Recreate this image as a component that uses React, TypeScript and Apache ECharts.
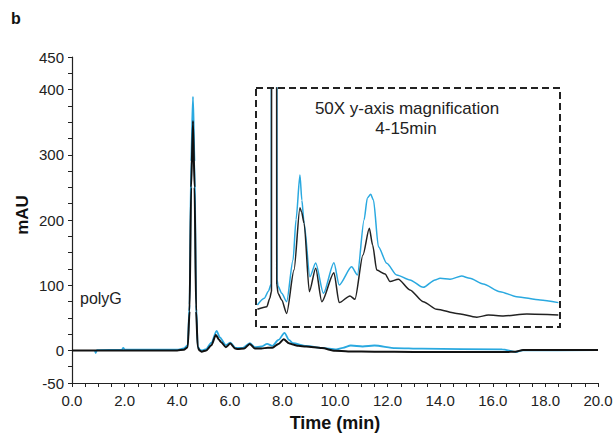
import React, { useEffect, useRef } from "react";
import * as echarts from "echarts";

// Main chromatogram (time in min, absorbance in mAU)
const blackMain: [number, number][] = [
  [0, 0], [4.0, 0], [4.25, 1], [4.4, 5], [4.47, 60], [4.53, 250], [4.6, 352], [4.66, 250],
  [4.72, 60], [4.78, 5], [4.85, 0], [4.93, -2], [5.1, 0], [5.3, 8], [5.47, 23.5], [5.6, 16],
  [5.66, 13], [5.85, 5], [6.02, 10.5], [6.2, 3], [6.3, 2], [6.55, 3], [6.76, 10], [6.95, 3],
  [7.2, 3], [7.45, 4], [7.62, 4], [7.85, 10], [8.05, 17], [8.25, 11], [8.4, 9], [8.6, 7],
  [8.9, 6], [9.5, 3.5], [10.0, -0.5], [10.5, -1.5], [11.5, -2], [13, -2.5], [16.5, -2.5],
  [16.85, -2], [17.15, 0.5], [20, 0.5],
];

const cyanMain: [number, number][] = [
  [0.87, 0], [0.9, -4], [0.95, 0.5], [1.9, 1], [1.95, 4], [2.0, 1], [4.0, 1], [4.25, 3],
  [4.4, 8], [4.47, 70], [4.53, 290], [4.6, 389], [4.66, 290], [4.72, 70], [4.78, 6],
  [4.85, 1.5], [4.93, 0], [5.1, 2], [5.3, 12], [5.5, 30], [5.62, 20], [5.85, 8], [6.02, 12],
  [6.22, 4], [6.5, 4], [6.76, 11], [6.95, 5], [7.2, 6], [7.42, 10], [7.62, 7], [7.85, 16],
  [8.08, 27], [8.25, 16], [8.4, 11], [8.9, 7], [9.5, 4], [10.05, 1.5], [10.3, 4], [10.6, 7.5],
  [11.05, 6], [11.5, 7.5], [12.3, 3.6], [13.3, 2.6], [16.36, 1.5], [16.88, -2.5], [17.13, 0],
  [20, 0.5],
];

// Inset: 50X y-axis magnification, 4-15 min (relative units)
const cyanInset: [number, number][] = [
  [4.05, 9.2], [4.3, 12], [4.45, 15], [4.55, 18], [4.565, 400], [4.745, 400], [4.76, 20],
  [4.8, 17], [4.93, 14.1], [5.11, 10.6], [5.34, 28], [5.45, 45], [5.59, 63.6], [5.66, 53],
  [5.74, 43.5], [5.95, 21], [6.16, 26.8], [6.44, 14.1], [6.82, 26.9], [7.01, 17.6],
  [7.46, 25.2], [7.67, 21.8], [7.91, 44.8], [8.03, 54], [8.15, 55.5], [8.25, 53.1],
  [8.43, 33.6], [8.73, 26.7], [9.09, 21.8], [9.57, 19.7], [10.05, 16.6], [10.48, 19.7],
  [10.66, 20.4], [11.02, 20.0], [11.44, 21.3], [11.74, 20.4], [12.22, 18.0], [12.83, 14.8],
  [13.43, 12.7], [14.28, 11.3], [14.94, 10.2],
];

const blackInset: [number, number][] = [
  [4.05, 7.4], [4.39, 8.5], [4.5, 12], [4.56, 15], [4.575, 400], [4.735, 400], [4.75, 18],
  [4.8, 14], [4.93, 11.3], [5.11, 5.7], [5.375, 23.8], [5.59, 49.9], [5.65, 48.1],
  [5.74, 43.4], [5.93, 14.8], [6.16, 24.6], [6.38, 10.6], [6.82, 22.7], [7.01, 10.2],
  [7.4, 13.0], [7.58, 11.6], [7.87, 30.1], [8.1, 41.3], [8.22, 34.3], [8.37, 23.8],
  [8.67, 22.2], [8.85, 19.0], [9.15, 20.0], [9.57, 15.5], [10.05, 10.6], [10.54, 7.4],
  [11.26, 5.7], [11.99, 4.1], [12.41, 5.0], [12.95, 4.6], [13.8, 5.4], [14.94, 5.0],
];

const yLabelValues = [-50, 0, 100, 200, 300, 400, 450];
const xLabelStep = 2;

const CYAN = "#2aa9e0";
const BLACK = "#111111";
const FONT = "'Liberation Sans', Arial, sans-serif";

export default function App() {
  const ref = useRef<HTMLDivElement>(null);
  useEffect(() => {
    if (!ref.current) return;
    const chart = echarts.init(ref.current, undefined, { renderer: "svg" });
    const axisLine = { lineStyle: { color: "#222", width: 1.2 } };
    chart.setOption({
      animation: false,
      backgroundColor: "#ffffff",
      grid: [
        { left: 72, right: 18, top: 57, bottom: 51 },
        { left: 256, top: 88, width: 304, height: 239 },
      ],
      xAxis: [
        {
          gridIndex: 0,
          type: "value",
          min: 0,
          max: 20,
          interval: 0.5,
          axisLine: { ...axisLine, onZero: false },
          axisTick: { show: true, length: 4, lineStyle: { color: "#222" } },
          splitLine: { show: false },
          axisLabel: {
            margin: 10,
            fontSize: 15,
            color: "#222",
            fontFamily: FONT,
            formatter: (v: number) => (Math.abs(v % xLabelStep) < 1e-9 ? v.toFixed(1) : ""),
          },
        },
        { gridIndex: 1, type: "value", min: 4, max: 15, show: false },
      ],
      yAxis: [
        {
          gridIndex: 0,
          type: "value",
          min: -50,
          max: 450,
          interval: 25,
          axisLine: { ...axisLine, show: true },
          axisTick: { show: true, length: 4, lineStyle: { color: "#222" } },
          splitLine: { show: false },
          axisLabel: {
            margin: 8,
            fontSize: 15,
            color: "#222",
            fontFamily: FONT,
            formatter: (v: number) => (yLabelValues.includes(v) ? String(v) : ""),
          },
        },
        { gridIndex: 1, type: "value", min: 0, max: 100, show: false },
      ],
      series: [
        {
          type: "line",
          xAxisIndex: 0,
          yAxisIndex: 0,
          data: cyanMain,
          showSymbol: false,
          smooth: 0.25,
          smoothMonotone: "x",
          lineStyle: { color: CYAN, width: 1.8 },
          z: 2,
        },
        {
          type: "line",
          xAxisIndex: 0,
          yAxisIndex: 0,
          data: blackMain,
          showSymbol: false,
          smooth: 0.25,
          smoothMonotone: "x",
          lineStyle: { color: BLACK, width: 2 },
          z: 3,
        },
        {
          type: "line",
          xAxisIndex: 1,
          yAxisIndex: 1,
          data: cyanInset,
          showSymbol: false,
          smooth: 0.25,
          smoothMonotone: "x",
          clip: true,
          lineStyle: { color: CYAN, width: 1.5 },
          z: 2,
        },
        {
          type: "line",
          xAxisIndex: 1,
          yAxisIndex: 1,
          data: blackInset,
          showSymbol: false,
          smooth: 0.25,
          smoothMonotone: "x",
          clip: true,
          lineStyle: { color: "#222", width: 1.5 },
          z: 3,
        },
      ],
      graphic: [
        {
          type: "rect",
          shape: { x: 256, y: 88, width: 304, height: 239 },
          style: { fill: "none", stroke: "#222", lineWidth: 2, lineDash: [7, 4] },
          z: 10,
        },
        {
          type: "text",
          x: 407,
          y: 108,
          style: {
            text: "50X y-axis magnification",
            font: `17px ${FONT}`,
            fill: "#222",
            align: "center",
            verticalAlign: "middle",
          },
          z: 10,
        },
        {
          type: "text",
          x: 406,
          y: 128,
          style: {
            text: "4-15min",
            font: `17px ${FONT}`,
            fill: "#222",
            align: "center",
            verticalAlign: "middle",
          },
          z: 10,
        },
        {
          type: "text",
          x: 80,
          y: 298,
          style: {
            text: "polyG",
            font: `16px ${FONT}`,
            fill: "#222",
            align: "left",
            verticalAlign: "middle",
          },
          z: 10,
        },
        {
          type: "text",
          x: 11,
          y: 18,
          style: {
            text: "b",
            font: `bold 16px ${FONT}`,
            fill: "#111",
            align: "left",
            verticalAlign: "middle",
          },
          z: 10,
        },
        {
          type: "text",
          x: 335,
          y: 423,
          style: {
            text: "Time (min)",
            font: `bold 18px ${FONT}`,
            fill: "#111",
            align: "center",
            verticalAlign: "middle",
          },
          z: 10,
        },
        {
          type: "text",
          x: 22,
          y: 215,
          rotation: Math.PI / 2,
          style: {
            text: "mAU",
            font: `bold 17px ${FONT}`,
            fill: "#111",
            align: "center",
            verticalAlign: "middle",
          },
          z: 10,
        },
      ],
    });
    return () => chart.dispose();
  }, []);
  return (
    <div
      ref={ref}
      style={{ position: "fixed", left: 0, top: 0, width: 616, height: 434, background: "#fff" }}
    />
  );
}
